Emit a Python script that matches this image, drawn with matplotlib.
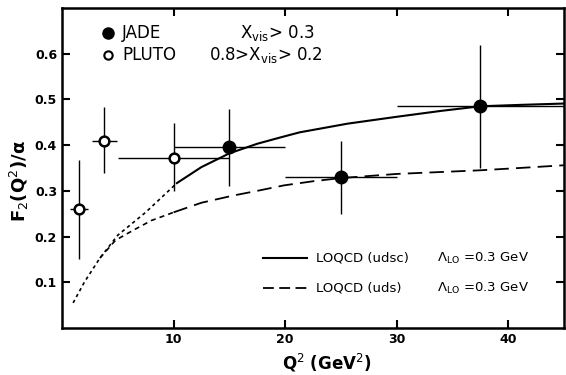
import matplotlib.pyplot as plt

# Puntos PLUTO (circulos abiertos)
pluto_q2 = [1.5, 3.8, 10.0]
pluto_f2 = [0.26, 0.41, 0.372]
pluto_err_lo = [0.11, 0.072, 0.072]
pluto_err_hi = [0.107, 0.073, 0.076]
pluto_xerr = [0.8, 1.1, 5.0]

# Puntos JADE (circulos llenos)
jade_q2 = [15.0, 25.0, 37.5]
jade_f2 = [0.396, 0.33, 0.485]
jade_err_lo = [0.086, 0.08, 0.135]
jade_err_hi = [0.082, 0.08, 0.135]
jade_xerr = [5.0, 5.0, 7.5]

# Curva LOQCD (udsc): parte punteada y parte continua
udsc_q2_dot = [1.0, 2.0, 3.4, 5.0, 7.5, 10.3]
udsc_f2_dot = [0.055, 0.10, 0.153, 0.203, 0.253, 0.317]
udsc_q2 = [10.3, 12.5, 15.0, 17.5, 19.6, 21.3, 25.6, 30.0, 34.0, 37.5, 41.0, 45.0]
udsc_f2 = [0.317, 0.352, 0.382, 0.403, 0.417, 0.428, 0.447, 0.462, 0.475, 0.485, 0.488, 0.491]

# Curva LOQCD (uds): parte punteada y parte discontinua
uds_q2_dot = [3.4, 4.8, 6.4, 8.0, 10.0]
uds_f2_dot = [0.153, 0.192, 0.214, 0.235, 0.253]
uds_q2 = [10.0, 12.5, 15.4, 17.5, 19.9, 22.5, 25.0, 30.0, 37.5, 41.0, 45.0]
uds_f2 = [0.253, 0.274, 0.29, 0.30, 0.312, 0.321, 0.328, 0.337, 0.345, 0.350, 0.356]

plt.rcParams['font.family'] = 'DejaVu Sans'
fig = plt.figure(figsize=(5.66, 3.75), dpi=100)
ax = fig.add_axes([0.1095, 0.1253, 0.887, 0.8534])

# Curvas teoricas
ax.plot(udsc_q2_dot, udsc_f2_dot, color='black', lw=1.2, linestyle=(0, (2, 2)))
ax.plot(udsc_q2, udsc_f2, color='black', lw=1.5, linestyle='-')
ax.plot(uds_q2_dot, uds_f2_dot, color='black', lw=1.2, linestyle=(0, (3, 2.5)))
ax.plot(uds_q2, uds_f2, color='black', lw=1.3, linestyle=(0, (8, 4)))

# Datos
ax.errorbar(pluto_q2, pluto_f2, yerr=[pluto_err_lo, pluto_err_hi], xerr=pluto_xerr,
            fmt='o', color='black', mfc='white', mec='black', mew=1.8, ms=7,
            elinewidth=1.0, capsize=0, zorder=5)
ax.errorbar(jade_q2, jade_f2, yerr=[jade_err_lo, jade_err_hi], xerr=jade_xerr,
            fmt='o', color='black', ms=9, elinewidth=1.0, capsize=0, zorder=5)

ax.set_xlim(0, 45)
ax.set_ylim(0, 0.7)
ax.set_xticks([10, 20, 30, 40])
ax.set_yticks([0.1, 0.2, 0.3, 0.4, 0.5, 0.6])
ax.set_yticklabels(['0.1', '0.2', '0.3', '0.4', '0.5', '0.6'])
ax.tick_params(direction='in', length=6, width=1.5, top=True, right=True, labelsize=9)
for lab in ax.get_xticklabels() + ax.get_yticklabels():
    lab.set_fontweight('bold')
for s in ax.spines.values():
    s.set_linewidth(1.8)

ax.set_xlabel('Q$^2$ (GeV$^2$)', fontsize=12, fontweight='bold')
ax.xaxis.set_label_coords(0.528, -0.075)
ax.set_ylabel('F$_2$(Q$^2$)/α', fontsize=13, fontweight='bold')
ax.yaxis.set_label_coords(-0.062, 0.46)

# Leyenda superior
ax.plot([4.1], [0.646], 'o', color='black', ms=8)
ax.text(5.4, 0.646, 'JADE', fontsize=12, va='center')
ax.plot([4.1], [0.598], 'o', mfc='white', mec='black', mew=1.5, ms=6)
ax.text(5.4, 0.598, 'PLUTO', fontsize=12, va='center')
ax.text(16.0, 0.646, 'X$_{\\mathrm{vis}}$> 0.3', fontsize=12, va='center')
ax.text(13.2, 0.598, '0.8>X$_{\\mathrm{vis}}$> 0.2', fontsize=12, va='center')

# Leyenda inferior
ax.plot([18.0, 22.0], [0.153, 0.153], color='black', lw=1.5)
ax.text(22.8, 0.153, 'LOQCD (udsc)', fontsize=9.5, va='center')
ax.text(33.6, 0.153, 'Λ$_{\\mathrm{LO}}$ =0.3 GeV', fontsize=9.5, va='center')
ax.plot([18.0, 22.0], [0.087, 0.087], color='black', lw=1.3, linestyle=(0, (6, 3)))
ax.text(22.8, 0.087, 'LOQCD (uds)', fontsize=9.5, va='center')
ax.text(33.6, 0.087, 'Λ$_{\\mathrm{LO}}$ =0.3 GeV', fontsize=9.5, va='center')

fig.savefig('out.png', dpi=100)
